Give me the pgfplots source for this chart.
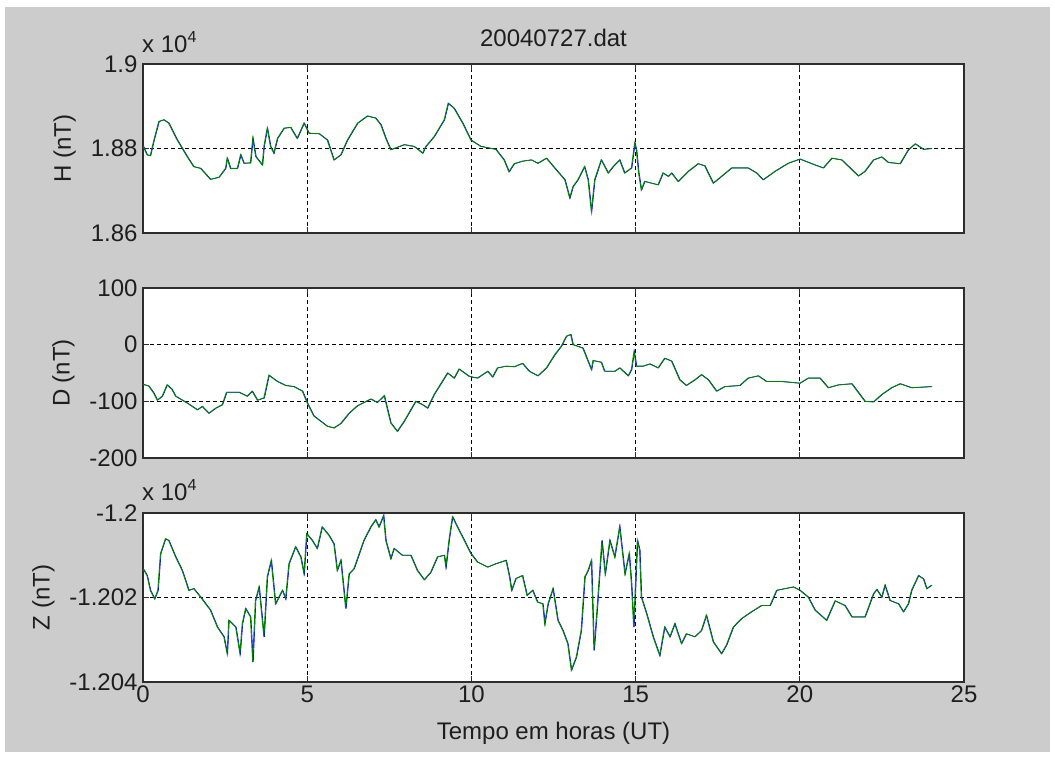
\documentclass[border=0pt]{standalone}
\usepackage{pgfplots}
\pgfplotsset{compat=1.18}
\usepackage{pgfplotstable}
\usepackage{fontspec}
\setmainfont{Liberation Sans}
\definecolor{figgray}{RGB}{204,204,204}
\definecolor{mblue}{RGB}{0,0,255}
\definecolor{mgreen}{RGB}{0,128,0}
\definecolor{axcol}{RGB}{45,45,45}
\definecolor{txtcol}{RGB}{30,30,30}

\pgfplotstableread{
t v
0 18806
0.12 18785
0.22 18783
0.33 18820
0.48 18864
0.63 18868
0.78 18860
1.04 18820
1.34 18781
1.54 18757
1.75 18753
2.05 18727
2.31 18732
2.51 18753
2.56 18777
2.66 18753
2.87 18753
2.97 18785
3.07 18765
3.27 18766
3.34 18824
3.43 18781
3.63 18761
3.68 18805
3.78 18848
3.88 18805
3.98 18789
4.09 18824
4.29 18848
4.49 18850
4.69 18824
4.90 18860
5.05 18836
5.36 18835
5.61 18820
5.81 18773
6.02 18785
6.22 18820
6.53 18860
6.83 18877
7.08 18872
7.24 18856
7.39 18824
7.54 18797
7.95 18809
8.25 18805
8.51 18789
8.61 18805
8.86 18828
9.17 18868
9.29 18907
9.47 18895
9.73 18860
9.98 18820
10.28 18805
10.74 18798
10.99 18773
11.14 18745
11.30 18764
11.55 18770
11.82 18773
12.02 18765
12.28 18777
12.53 18754
12.84 18726
12.99 18683
13.09 18710
13.24 18726
13.44 18757
13.55 18726
13.65 18651
13.75 18726
13.95 18773
14.16 18742
14.31 18757
14.51 18773
14.66 18742
14.87 18754
14.97 18813
15.02 18797
15.09 18742
15.17 18702
15.27 18722
15.68 18714
15.83 18742
15.99 18734
16.09 18742
16.29 18722
16.60 18746
16.90 18764
17.10 18759
17.36 18718
17.61 18734
17.92 18754
18.42 18754
18.68 18742
18.88 18726
19.24 18746
19.64 18765
20.00 18775
20.46 18761
20.71 18754
20.97 18777
21.27 18773
21.78 18735
21.98 18746
22.24 18773
22.49 18780
22.69 18767
23.05 18764
23.30 18797
23.51 18811
23.76 18798
24.01 18800
}\Hdata

\pgfplotstableread{
t v
0 -70
0.17 -73
0.33 -86
0.43 -98
0.58 -91
0.73 -71
0.88 -79
0.99 -91
1.34 -103
1.65 -115
1.80 -109
2.00 -121
2.21 -112
2.41 -106
2.54 -84
2.92 -84
3.17 -91
3.32 -82
3.48 -98
3.68 -94
3.83 -54
4.09 -65
4.34 -72
4.59 -74
4.85 -82
5.00 -103
5.20 -126
5.61 -144
5.81 -147
6.02 -139
6.27 -121
6.52 -108
6.93 -96
7.13 -102
7.34 -90
7.54 -138
7.74 -153
7.95 -135
8.30 -100
8.51 -106
8.66 -112
8.86 -88
9.27 -50
9.47 -59
9.62 -43
9.93 -56
10.18 -59
10.49 -47
10.64 -57
10.79 -41
11.05 -38
11.30 -39
11.55 -33
11.76 -47
12.02 -55
12.28 -41
12.53 -18
12.73 -3
12.89 15
13.02 18
13.09 0
13.39 -6
13.65 -44
13.70 -28
13.95 -31
14.05 -47
14.36 -47
14.51 -41
14.77 -55
14.87 -44
14.95 -12
15.02 -38
15.22 -38
15.43 -34
15.68 -41
15.88 -24
16.09 -29
16.34 -62
16.54 -72
16.80 -62
17.00 -53
17.21 -62
17.46 -82
17.71 -74
18.17 -72
18.42 -59
18.73 -55
18.98 -65
19.44 -65
20.00 -68
20.25 -59
20.61 -59
20.86 -76
21.17 -71
21.58 -69
21.98 -100
22.24 -101
22.49 -88
22.79 -76
23.05 -69
23.40 -76
24.01 -74
}\Ddata

\pgfplotstableread{
t v
0 -12013.2
0.12 -12014.8
0.22 -12018.3
0.35 -12020.3
0.45 -12018.3
0.53 -12009.6
0.68 -12006.1
0.78 -12006.5
0.99 -12010.4
1.19 -12013.6
1.39 -12018.3
1.54 -12017.9
1.75 -12019.9
2.05 -12023.0
2.26 -12027.0
2.46 -12029.3
2.56 -12033.3
2.61 -12025.4
2.82 -12027.0
2.95 -12033.3
3.02 -12026.2
3.12 -12022.6
3.27 -12024.6
3.34 -12035.3
3.42 -12020.7
3.53 -12017.5
3.68 -12029.3
3.78 -12015.1
3.90 -12011.2
4.03 -12021.5
4.24 -12018.3
4.34 -12020.3
4.44 -12012.0
4.64 -12008.0
4.80 -12010.4
4.90 -12014.4
4.98 -12004.9
5.15 -12006.5
5.30 -12008.4
5.45 -12003.3
5.66 -12005.3
5.81 -12007.3
5.91 -12013.6
6.02 -12011.2
6.17 -12022.6
6.27 -12014.4
6.42 -12013.2
6.72 -12006.5
6.93 -12003.3
7.08 -12001.6
7.18 -12003.3
7.32 -12000.6
7.39 -12006.5
7.54 -12010.8
7.64 -12008.4
7.89 -12010.0
8.15 -12010.0
8.35 -12013.6
8.56 -12015.8
8.76 -12014.0
8.96 -12010.4
9.17 -12010.0
9.22 -12012.8
9.32 -12006.1
9.42 -12000.9
9.57 -12003.3
9.78 -12006.5
9.98 -12009.6
10.18 -12011.6
10.49 -12012.8
10.74 -12012.0
11.05 -12011.2
11.15 -12014.8
11.22 -12018.3
11.35 -12015.5
11.55 -12014.8
11.69 -12019.5
11.86 -12018.3
12.01 -12021.1
12.17 -12021.5
12.23 -12026.2
12.33 -12021.5
12.48 -12017.9
12.63 -12025.4
12.78 -12027.8
12.93 -12030.9
13.04 -12037.2
13.19 -12034.1
13.34 -12027.8
13.45 -12015.1
13.55 -12013.6
13.65 -12011.2
13.73 -12032.5
13.85 -12019.9
13.97 -12006.5
14.07 -12014.4
14.21 -12006.5
14.36 -12010.4
14.51 -12003.2
14.67 -12014.4
14.80 -12009.6
14.87 -12016.7
14.94 -12027.0
15.05 -12006.5
15.12 -12008.8
15.17 -12019.9
15.33 -12023.8
15.53 -12029.3
15.73 -12033.7
15.88 -12027.0
16.04 -12029.3
16.19 -12026.2
16.39 -12030.9
16.54 -12028.6
16.80 -12029.3
17.00 -12027.8
17.15 -12024.2
17.36 -12030.5
17.61 -12033.3
17.76 -12031.3
17.97 -12027.0
18.22 -12025.0
18.52 -12023.4
18.83 -12021.9
19.09 -12021.9
19.29 -12018.3
19.54 -12017.9
19.80 -12017.5
20.00 -12018.3
20.25 -12019.9
20.46 -12023.0
20.81 -12025.4
21.07 -12020.8
21.37 -12021.9
21.58 -12024.6
21.98 -12024.6
22.24 -12019.1
22.34 -12018.1
22.49 -12019.9
22.59 -12017.1
22.74 -12020.7
23.00 -12021.5
23.15 -12023.4
23.30 -12021.5
23.40 -12018.3
23.61 -12014.8
23.76 -12015.6
23.86 -12017.9
24.01 -12017.1
}\Zdata

\pgfplotsset{
  mlab/.style={
    scale only axis, width=821pt, xmin=0, xmax=25,
    xtick={0,5,10,15,20,25},
    scaled x ticks=false, scaled y ticks=false,
    axis background/.style={fill=white},
    grid=major,
    major grid style={black, line width=1pt, dash pattern=on 4pt off 3pt},
    axis line style={axcol, line width=1.2pt},
    tick align=inside, major tick length=6pt,
    tick style={axcol, line width=1pt},
    tick label style={font=\fontsize{24}{28}\selectfont, text=txtcol},
    yticklabel style={xshift=-2pt},
    label style={font=\fontsize{24}{28}\selectfont, text=txtcol},
    ylabel shift=8pt,
  },
  bline/.style={mblue, line width=0.7pt, xshift=0.6pt},
  gline/.style={mgreen, line width=0.9pt},
}

\begin{document}
\begin{tikzpicture}[x=1pt,y=1pt]
\fill[white] (0,0) rectangle (1055,758);
\fill[figgray] (5,6) rectangle (1050,751);

% H
\begin{axis}[mlab, at={(143pt,525pt)}, anchor=south west, height=169pt,
  ymin=18600, ymax=19000, ytick={18600,18800,19000},
  yticklabels={1.86,1.88,1.9}, xticklabels={}, ylabel={H (nT)}]
\addplot[bline] table {\Hdata};
\addplot[gline] table {\Hdata};
\end{axis}
\node[anchor=base west, inner sep=0, font=\fontsize{24}{28}\selectfont, text=txtcol] at (142pt,705pt) {x 10\raisebox{10pt}{\fontsize{16}{18}\selectfont 4}};
\node[anchor=base, inner sep=0, font=\fontsize{24}{28}\selectfont, text=txtcol] at (553.5pt,711pt) {20040727.dat};

% D
\begin{axis}[mlab, at={(143pt,300pt)}, anchor=south west, height=170pt,
  ymin=-200, ymax=100, ytick={-200,-100,0,100},
  yticklabels={-200,-100,0,100}, xticklabels={}, ylabel={D (nT)}]
\addplot[bline] table {\Ddata};
\addplot[gline] table {\Ddata};
\end{axis}

% Z
\begin{axis}[mlab, at={(143pt,76pt)}, anchor=south west, height=169pt,
  ymin=-12040, ymax=-12000, ytick={-12040,-12020,-12000},
  yticklabels={-1.204,-1.202,-1.2}, xticklabels={0,5,10,15,20,25},
  ylabel={Z (nT)}]
\addplot[bline] table {\Zdata};
\addplot[gline] table {\Zdata};
\end{axis}
\node[anchor=base west, inner sep=0, font=\fontsize{24}{28}\selectfont, text=txtcol] at (142pt,257pt) {x 10\raisebox{10pt}{\fontsize{16}{18}\selectfont 4}};
\node[anchor=base, inner sep=0, font=\fontsize{24}{28}\selectfont, text=txtcol] at (553.5pt,19pt) {Tempo em horas (UT)};
\end{tikzpicture}
\end{document}
